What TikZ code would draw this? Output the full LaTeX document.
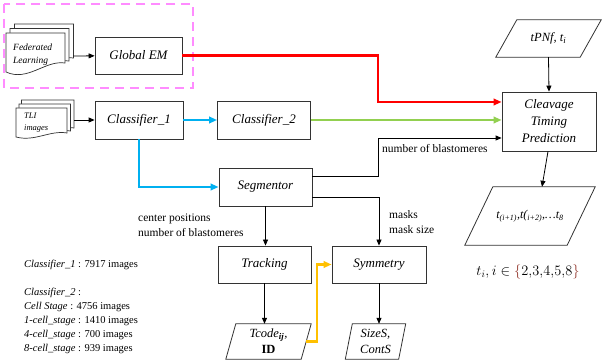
\documentclass[tikz,border=0pt]{standalone}
\usepackage{fontspec}
\setmainfont{Liberation Serif}
\usetikzlibrary{arrows.meta}

\definecolor{flpink}{RGB}{255,140,255}
\definecolor{emred}{RGB}{255,0,0}
\definecolor{clsblue}{RGB}{0,176,240}
\definecolor{clsgreen}{RGB}{146,208,80}
\definecolor{symorange}{RGB}{255,192,0}
\definecolor{setbrown}{RGB}{150,60,50}

% one sheet of a document stack: x0, y0, x1, y1 (bottom left), rise of the wave
\newcommand{\docpage}[5]{%
  \draw[page] (#1,#2) -- (#3,#2) -- (#3,{#4-#5})
    .. controls ({#3-0.34*(#3-#1)},{#4-#5-3}) and ({#1+0.37*(#3-#1)},{#4+#5+1}) .. (#1,#4) -- cycle;}
% slanted outline round an io node: node name, half of the slant
\newcommand{\slantbox}[2]{%
  \draw[iopath] ([xshift=#2pt]#1.north west) -- ([xshift=#2pt]#1.north east)
    -- ([xshift=-#2pt]#1.south east) -- ([xshift=-#2pt]#1.south west) -- cycle;}

\tikzset{
  box/.style={draw=black!80, line width=0.8pt, fill=white, align=center,
    font=\fontsize{13}{17}\selectfont\itshape,
    minimum width=93pt, minimum height=37pt, inner sep=2pt},
  iobox/.style={align=center, inner sep=1pt,
    font=\fontsize{12.5}{16}\selectfont\itshape},
  iopath/.style={draw=black!80, line width=0.8pt},
  page/.style={draw=black!80, line width=0.7pt, fill=white},
  flow/.style={line width=0.8pt, -{Triangle[length=6pt,width=5pt]}},
  thickflow/.style={line width=2.5pt, -{Triangle[length=8pt,width=6.5pt]}},
  lbl/.style={font=\fontsize{11.5}{15}\selectfont, align=left, inner sep=0pt},
}

\begin{document}
\begin{tikzpicture}[x=1pt, y=-1pt]
  \path[use as bounding box, fill=white] (0,0) rectangle (614,363);

  % federated learning part
  \draw[flpink, line width=2.5pt, dash pattern=on 9pt off 6pt] (4,4) rectangle (193,88);
  \docpage{14.5}{24}{73.5}{67}{9}
  \docpage{10}{28.5}{69}{70}{9}
  \docpage{6}{33}{65}{72}{9}
  \node[anchor=west, align=left, inner sep=0pt,
    font=\fontsize{9.5}{13}\selectfont\itshape] (fl) at (13,54.5) {Federated\\Learning};
  \coordinate (flout) at (73.5,56);
  \node[box, minimum width=87pt] (gem) at (138.5,55.5) {Global EM};

  % input images
  \docpage{21.5}{100}{74}{132}{4}
  \docpage{19}{104}{70.5}{135}{4}
  \docpage{16}{108}{67}{137}{4}
  \node[anchor=west, align=left, inner sep=0pt,
    font=\fontsize{8.5}{12}\selectfont\itshape] (tli) at (24,123) {TLI\\images};
  \coordinate (tliout) at (74,120);

  % processing boxes
  \node[box, minimum width=88pt, minimum height=38pt] (cls1) at (139,120) {Classifier\_1};
  \node[box, minimum height=38pt] (cls2) at (264,120) {Classifier\_2};
  \node[box, minimum height=38pt] (seg) at (265.5,187) {Segmentor};
  \node[box] (trk) at (264.5,264.5) {Tracking};
  \node[box, minimum width=94pt] (sym) at (379,264.5) {Symmetry};
  \node[box, minimum width=94pt, minimum height=59pt] (ctp) at (549,121.5)
    {Cleavage\\Timing\\Prediction};

  % inputs and outputs
  \node[iobox, minimum width=84pt, minimum height=37pt] (tpnf) at (548.5,38.5)
    {tPNf, t\textsubscript{i}};
  \slantbox{tpnf}{10.5}
  \node[iobox, minimum width=75pt, minimum height=35pt] (tcode) at (268.5,341.5)
    {Tcode\textsubscript{\textbf{ij}},\\\upshape\textbf{ID}};
  \slantbox{tcode}{5}
  \node[iobox, minimum width=53pt, minimum height=35pt] (sizes) at (375.5,341.5)
    {SizeS,\\ContS};
  \slantbox{sizes}{3.5}
  \node[iobox, minimum width=102pt, minimum height=58pt,
    font=\fontsize{12}{14}\selectfont\itshape] (out) at (530,216)
    {t\textsubscript{(i+1)},t(\textsubscript{i+2)},\dots t\textsubscript{8}};
  \slantbox{out}{14}
  \node[font=\fontsize{14}{16}\selectfont] (set) at (528,272)
    {$t_i, i \in \textcolor{setbrown}{\{}2{,}3{,}4{,}5{,}8\textcolor{setbrown}{\}}$};

  % connectors
  \draw[flow] (flout) -- (gem);
  \draw[flow] (tliout) -- (cls1);
  \coordinate (redbend) at (378,102);
  \draw[thickflow, emred] (gem.east) -| (redbend) -- (ctp.west |- redbend);
  \draw[thickflow, clsblue] (cls1) -- (cls2);
  \draw[thickflow, clsblue] (cls1.south) |- (seg.west);
  \draw[thickflow, clsgreen] (cls2.east) -- (ctp.west |- cls2.east);
  \coordinate (nbbend) at (378,138);
  \draw[flow] ([yshift=11pt]seg.east) -| (nbbend) -- (ctp.west |- nbbend);
  \draw[flow] ([yshift=-10pt]seg.east) -| (sym.north);
  \draw[flow] (seg.south) -- (seg.south |- trk.north);
  \draw[flow] (tpnf.south) -- (ctp.north);
  \draw[flow] ([xshift=-1pt]ctp.south) -- ([xshift=12pt]out.north);
  \draw[flow] (trk.south) -- (trk.south |- tcode.north);
  \draw[flow] (sym.south) -- (sym.south |- sizes.north);
  \draw[thickflow, symorange] (tcode.east) -- ++(11,0) |- (sym.west);

  % labels
  \node[lbl, anchor=west] (nblab) at (382,149) {number of blastomeres};
  \node[lbl, anchor=west] (cplab) at (138,225.5) {center positions\\number of blastomeres};
  \node[lbl, anchor=west] (mklab) at (389,222.5) {masks\\mask size};
  \node[lbl, anchor=west, font=\fontsize{10.5}{14}\selectfont] (data) at (24,307)
    {\textit{Classifier\_1} : 7917 images\\[14pt]
     \textit{Classifier\_2} :\\
     \textit{Cell Stage} : 4756 images\\
     \textit{1-cell\_stage} : 1410 images\\
     \textit{4-cell\_stage} : 700 images\\
     \textit{8-cell\_stage} : 939 images};
\end{tikzpicture}
\end{document}
